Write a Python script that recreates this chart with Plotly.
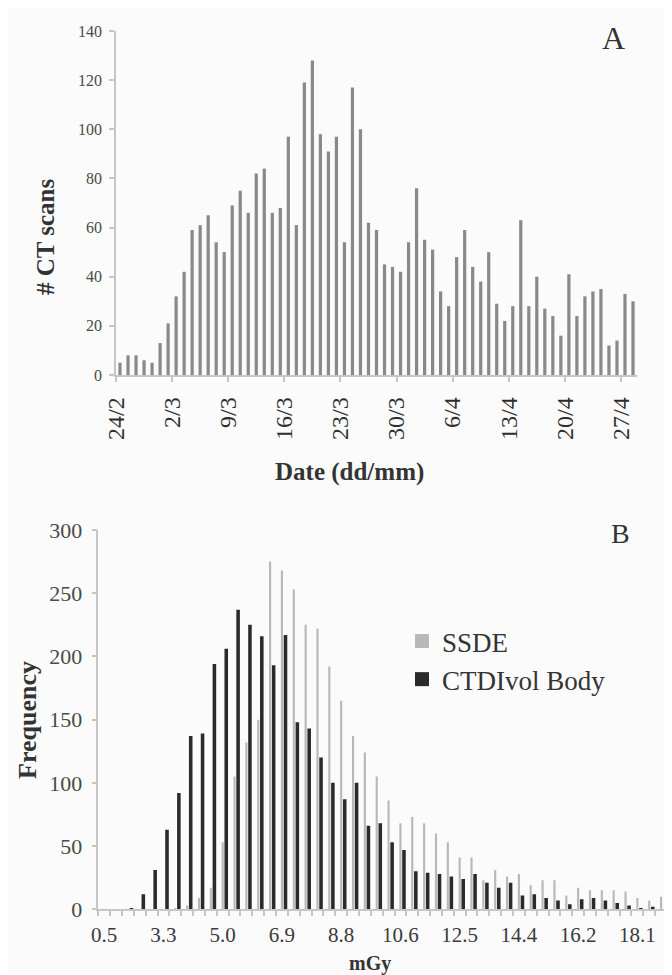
import plotly.graph_objects as go

# ---------------- Panel A data ----------------
day_labels = ["24/2", "2/3", "9/3", "16/3", "23/3", "30/3", "6/4", "13/4", "20/4", "27/4"]
ct_scans = [5, 8, 8, 6, 5, 13, 21, 32, 42, 59,
            61, 65, 54, 50, 69, 75, 66, 82, 84, 66,
            68, 97, 61, 119, 128, 98, 91, 97, 54, 117,
            100, 62, 59, 45, 44, 42, 54, 76, 55, 51,
            34, 28, 48, 59, 44, 38, 50, 29, 22, 28,
            63, 28, 40, 27, 24, 16, 41, 24, 32, 34,
            35, 12, 14, 33, 30]

# ---------------- Panel B data ----------------
mgy_labels = ["0.5", "3.3", "5.0", "6.9", "8.8", "10.6", "12.5", "14.4", "16.2", "18.1"]
ssde = [0, 0, 0, 0, 0, 0, 1, 3, 9, 17,
        53, 105, 132, 150, 275, 268, 253, 225, 222, 192,
        165, 137, 124, 105, 86, 68, 73, 68, 60, 53,
        41, 41, 23, 31, 26, 28, 19, 23, 23, 11,
        17, 15, 15, 15, 14, 9, 7, 10]
ctdi_body = [0, 0, 1, 12, 31, 63, 92, 137, 139, 194,
             206, 237, 225, 216, 193, 217, 148, 143, 120, 100,
             87, 100, 66, 68, 53, 47, 30, 29, 28, 26,
             24, 28, 21, 17, 21, 11, 12, 9, 7, 4,
             8, 9, 7, 5, 3, 1, 2, 0]
series_names = ["SSDE", "CTDIvol Body"]
series_colors = ["#b8b8bc", "#2a2a2a"]

SERIF = "'Times New Roman', 'Liberation Serif', serif"
W, H = 672, 975
OFF = 8  # page body margin offset

days = list(range(len(ct_scans)))
bins = list(range(len(ssde)))

fig = go.Figure()
fig.add_trace(go.Bar(x=days, y=ct_scans, xaxis="x", yaxis="y", width=0.4,
                     marker=dict(color="#88888d", line=dict(width=0)), showlegend=False))
fig.add_trace(go.Bar(x=bins, y=ssde, xaxis="x2", yaxis="y2", width=0.18, offset=-0.09,
                     marker=dict(color=series_colors[0], line=dict(width=0)),
                     name=series_names[0], showlegend=False))
fig.add_trace(go.Bar(x=bins, y=ctdi_body, xaxis="x2", yaxis="y2", width=0.3, offset=0.15,
                     marker=dict(color=series_colors[1], line=dict(width=0)),
                     name=series_names[1], showlegend=False))
# legend entries (square keys)
for i, (nm, col) in enumerate(zip(series_names, series_colors)):
    fig.add_trace(go.Scatter(x=[None], y=[None], xaxis="x2", yaxis="y2", mode="markers",
                             marker=dict(symbol="square", size=14, color=col),
                             name=nm, legendgroup=f"g{i}", showlegend=True))

axis_line = "#c6c6c6"

def fx(p):
    return (p - OFF) / W

def fy(p):
    return 1 - (p - OFF) / H

def px_x(a, b):
    return [fx(a), fx(b)]

def px_y(top, bottom):
    return [fy(bottom), fy(top)]

fig.update_layout(
    width=W, height=H,
    margin=dict(l=0, r=0, t=0, b=0, autoexpand=False),
    paper_bgcolor="#fbfbfb", plot_bgcolor="rgba(0,0,0,0)",
    barmode="overlay",
    font=dict(family=SERIF, color="#333333"),
    xaxis=dict(domain=px_x(116, 637), anchor="y", range=[-0.5, len(ct_scans) - 0.5],
               automargin=False,
               tickmode="array", tickvals=[-0.5 + 7 * i for i in range(len(day_labels))],
               ticktext=day_labels, tickangle=-90, ticks="outside", ticklen=5,
               tickcolor=axis_line, tickwidth=1.5,
               showline=True, linecolor=axis_line, linewidth=1.5,
               showgrid=False, zeroline=False, ticklabelstandoff=6,
               tickfont=dict(family=SERIF, size=24, color="#2e2e2e")),
    yaxis=dict(domain=px_y(31, 375), anchor="x", range=[0, 140], dtick=20,
               automargin=False,
               ticks="outside", ticklen=5, tickcolor=axis_line, tickwidth=1.5,
               showline=True, linecolor=axis_line, linewidth=1.5,
               showgrid=False, zeroline=False, ticklabelstandoff=4,
               tickfont=dict(family=SERIF, size=16, color="#4a4a4a")),
    xaxis2=dict(domain=px_x(98.3, 667), anchor="y2", range=[-0.5, len(ssde) - 0.5],
                automargin=False,
                tickmode="array", tickvals=[5 * i for i in range(len(mgy_labels))],
                ticktext=mgy_labels, ticks="outside", ticklen=0, tickcolor=axis_line,
                minor=dict(ticks="outside", ticklen=5, tickcolor=axis_line, tickwidth=1.5,
                           tickmode="linear", tick0=-0.5, dtick=1),
                showline=True, linecolor=axis_line, linewidth=1.5,
                showgrid=False, zeroline=False, ticklabelstandoff=6,
                tickfont=dict(family=SERIF, size=21, color="#3a3a3a")),
    yaxis2=dict(domain=px_y(530, 909.3), anchor="x2", range=[0, 300], dtick=50,
                automargin=False,
                ticks="outside", ticklen=5, tickcolor=axis_line, tickwidth=1.5,
                showline=True, linecolor=axis_line, linewidth=1.5,
                showgrid=False, zeroline=False, ticklabelstandoff=5,
                tickfont=dict(family=SERIF, size=22, color="#4a4a4a")),
    legend=dict(x=fx(402), y=fy(617), xanchor="left", yanchor="top",
                bgcolor="rgba(0,0,0,0)", tracegroupgap=0, itemwidth=30,
                font=dict(family=SERIF, size=27, color="#333333")),
)

annots = [
    dict(text="<b># CT scans</b>", x=fx(45), y=fy(237), textangle=-90, font_size=25),
    dict(text="<b>Date (dd/mm)</b>", x=fx(349), y=fy(472), font_size=25),
    dict(text="A", x=fx(613), y=fy(38), font_size=32),
    dict(text="<b>Frequency</b>", x=fx(27), y=fy(720), textangle=-90, font_size=26),
    dict(text="<b>mGy</b>", x=fx(370), y=fy(963), font_size=20),
    dict(text="B", x=fx(620), y=fy(533), font_size=28),
]
for a in annots:
    fig.add_annotation(xref="paper", yref="paper", showarrow=False,
                       xanchor="center", yanchor="middle",
                       font=dict(family=SERIF, size=a.pop("font_size"), color="#333333"),
                       **a)

fig.write_html("out.html")
